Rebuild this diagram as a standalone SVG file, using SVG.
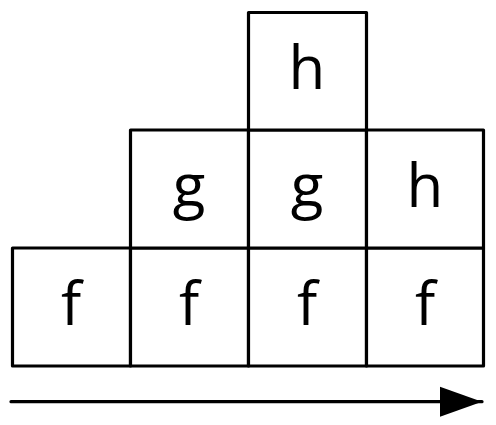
<svg xmlns="http://www.w3.org/2000/svg" width="496" height="425" viewBox="0 0 496 425">
<style>
.cell{fill:#fff;stroke:#000;stroke-width:3.2;stroke-linejoin:round}
.lbl{font-family:"Open Sans","DejaVu Sans",sans-serif;font-size:60px;fill:#000;text-anchor:middle}
.arr{stroke:#000;stroke-width:3.2;fill:none;stroke-linecap:round}
</style>
<defs>
<marker id="ah" markerUnits="userSpaceOnUse" markerWidth="44" markerHeight="32" refX="42" refY="16" orient="auto">
<path d="M0,1 L42,16 L0,31 Z" fill="#000"/>
</marker>
</defs>
<rect width="496" height="425" fill="#fff"/>
<g id="n-f1"><rect class="cell" x="12.5" y="248" width="118" height="118"/><text class="lbl" x="71" y="325">f</text></g>
<g id="n-f2"><rect class="cell" x="130.5" y="248" width="118" height="118"/><text class="lbl" x="189" y="325">f</text></g>
<g id="n-f3"><rect class="cell" x="248.5" y="248" width="118" height="118"/><text class="lbl" x="307" y="325">f</text></g>
<g id="n-f4"><rect class="cell" x="366.5" y="248" width="117" height="118"/><text class="lbl" x="425" y="325">f</text></g>
<g id="n-g1"><rect class="cell" x="130.5" y="130" width="118" height="118"/><text class="lbl" x="189" y="207">g</text></g>
<g id="n-g2"><rect class="cell" x="248.5" y="130" width="118" height="118"/><text class="lbl" x="307" y="207">g</text></g>
<g id="n-h2"><rect class="cell" x="366.5" y="130" width="117" height="118"/><text class="lbl" x="425" y="207">h</text></g>
<g id="n-h1"><rect class="cell" x="248.5" y="12.5" width="118" height="117.5"/><text class="lbl" x="307" y="89">h</text></g>
<g id="connectors"><line class="arr" x1="11" y1="401.7" x2="482" y2="401.7" marker-end="url(#ah)"/></g>
</svg>
